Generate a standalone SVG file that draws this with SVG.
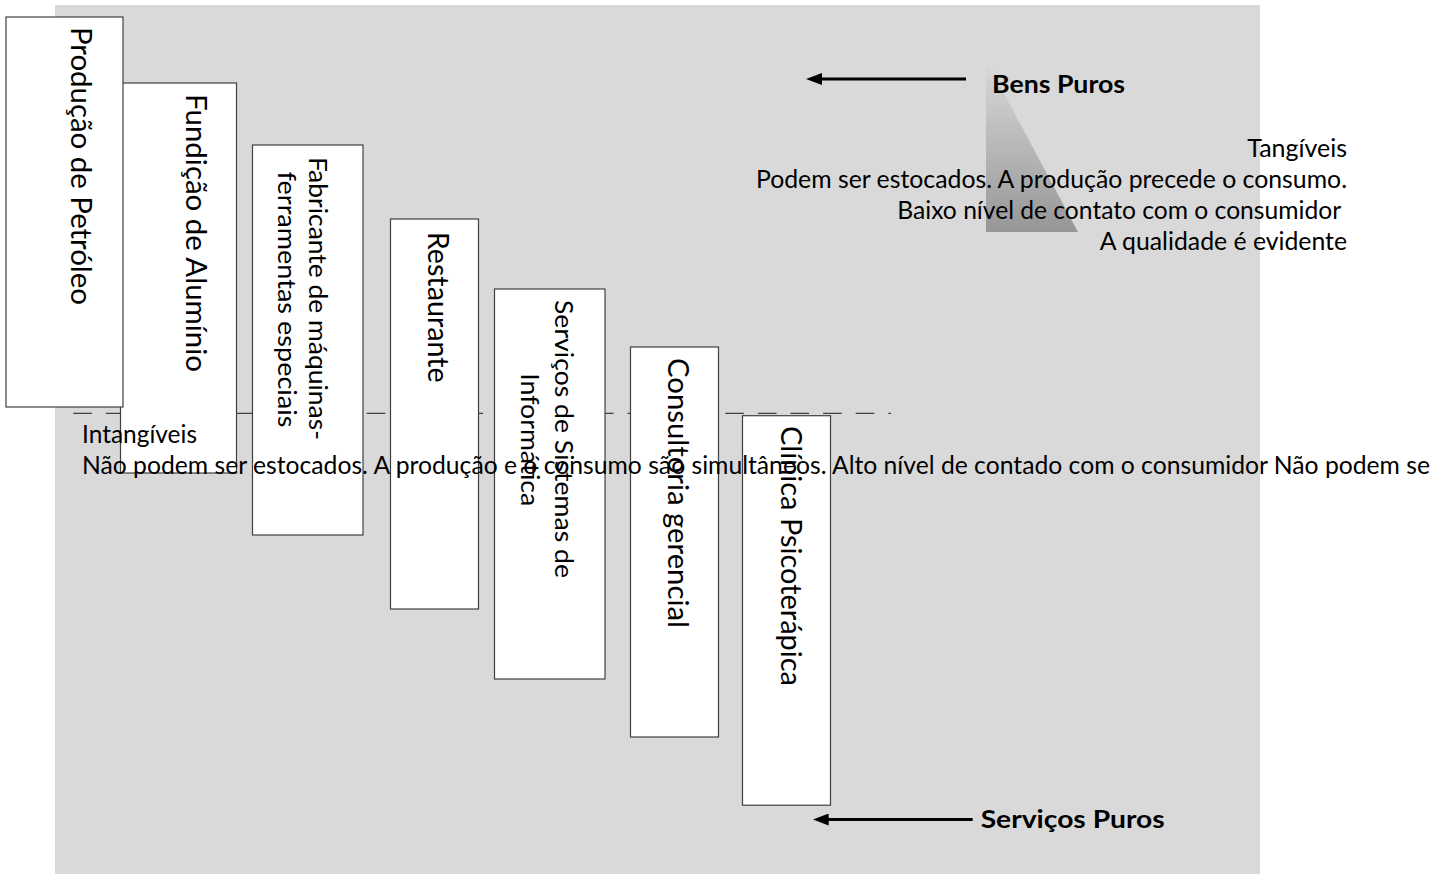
<svg xmlns="http://www.w3.org/2000/svg" width="1430" height="874" viewBox="0 0 1430 874">
<defs>
<style>
text{font-family:Lato,"Liberation Sans",Arial,sans-serif;fill:#000;}
.box{fill:#fff;stroke:#404040;stroke-width:1.2;}
.big{font-size:28.5px;}
.mid{font-size:25.5px;}
.body{font-size:24.3px;}
.bold{font-size:25px;font-weight:bold;}
.arrow{stroke:#000;stroke-width:3;fill:none;}
.dash{stroke:#404040;stroke-width:1.3;stroke-dasharray:18.6 14;fill:none;}
</style>
<linearGradient id="tri" x1="0" y1="0" x2="0" y2="1">
<stop offset="0" stop-color="#dadada"/>
<stop offset="1" stop-color="#969696"/>
</linearGradient>
<marker id="ah" markerUnits="userSpaceOnUse" markerWidth="16" markerHeight="12" refX="10" refY="6" orient="auto">
<path d="M0,0 L16,6 L0,12 z" fill="#000"/>
</marker>
</defs>

<rect id="background" x="55" y="5" width="1205" height="869" fill="#d9d9d9"/>
<polygon id="shade" points="986,60 1078,232 986,232" fill="url(#tri)"/>

<g id="connectors">
<line class="dash" x1="73.3" y1="413.3" x2="891" y2="413.3"/>
<line class="arrow" x1="966" y1="79" x2="812" y2="79" marker-end="url(#ah)"/>
<line class="arrow" x1="972.7" y1="819.5" x2="818.7" y2="819.5" marker-end="url(#ah)"/>
</g>

<g id="node-fundicao">
<rect class="box" x="120.5" y="83" width="116" height="390"/>
<text class="big" transform="translate(186.3,94) rotate(90)" textLength="278" lengthAdjust="spacingAndGlyphs">Fundição de Alumínio</text>
</g>
<g id="node-petroleo">
<rect class="box" x="6" y="17" width="117" height="390"/>
<text class="big" transform="translate(71.4,27) rotate(90)" textLength="278" lengthAdjust="spacingAndGlyphs">Produção de Petróleo</text>
</g>
<g id="node-fabricante">
<rect class="box" x="252.5" y="145" width="110.5" height="390"/>
<text class="mid" transform="translate(308.6,157) rotate(90)" textLength="283" lengthAdjust="spacingAndGlyphs">Fabricante de máquinas-</text>
<text class="mid" transform="translate(278,171.5) rotate(90)" textLength="256" lengthAdjust="spacingAndGlyphs">ferramentas especiais</text>
</g>
<g id="node-restaurante">
<rect class="box" x="390.5" y="219" width="88" height="390"/>
<text class="big" transform="translate(427.6,231.7) rotate(90)" textLength="151" lengthAdjust="spacingAndGlyphs">Restaurante</text>
</g>
<g id="node-servicos">
<rect class="box" x="494.5" y="289" width="110.5" height="390"/>
<text class="mid" transform="translate(555,300) rotate(90)" textLength="278" lengthAdjust="spacingAndGlyphs">Serviços de Sistemas de</text>
<text class="mid" transform="translate(521,373.3) rotate(90)" textLength="133" lengthAdjust="spacingAndGlyphs">Informática</text>
</g>
<g id="node-consultoria">
<rect class="box" x="630.5" y="347" width="88" height="390"/>
<text class="big" transform="translate(667.6,358) rotate(90)" textLength="270" lengthAdjust="spacingAndGlyphs">Consultoria gerencial</text>
</g>
<g id="node-clinica">
<rect class="box" x="742.5" y="415.7" width="88" height="389.5"/>
<text class="big" transform="translate(781.3,426) rotate(90)" textLength="260" lengthAdjust="spacingAndGlyphs">Clínica Psicoterápica</text>
</g>

<g id="label-bens">
<text class="bold" x="992" y="92.5" textLength="133" lengthAdjust="spacingAndGlyphs">Bens Puros</text>
</g>
<g id="label-servicos">
<text class="bold" x="980.7" y="828" textLength="184" lengthAdjust="spacingAndGlyphs">Serviços Puros</text>
</g>

<g id="tangiveis">
<text class="body" x="1247.3" y="156.5" textLength="99.7" lengthAdjust="spacingAndGlyphs">Tangíveis</text>
<text class="body" x="755.9" y="187.5" textLength="591.1" lengthAdjust="spacingAndGlyphs">Podem ser estocados. A produção precede o consumo.</text>
<text class="body" x="897.3" y="218.5" textLength="443.8" lengthAdjust="spacingAndGlyphs">Baixo nível de contato com o consumidor</text>
<text class="body" x="1099.8" y="249.5" textLength="247.2" lengthAdjust="spacingAndGlyphs">A qualidade é evidente</text>
</g>

<g id="intangiveis">
<text class="body" x="82" y="443.3" textLength="115" lengthAdjust="spacingAndGlyphs">Intangíveis</text>
<text class="body" x="82" y="474" textLength="1348" lengthAdjust="spacingAndGlyphs">Não podem ser estocados. A produção e o consumo são simultâneos. Alto nível de contado com o consumidor Não podem se</text>
</g>
</svg>
